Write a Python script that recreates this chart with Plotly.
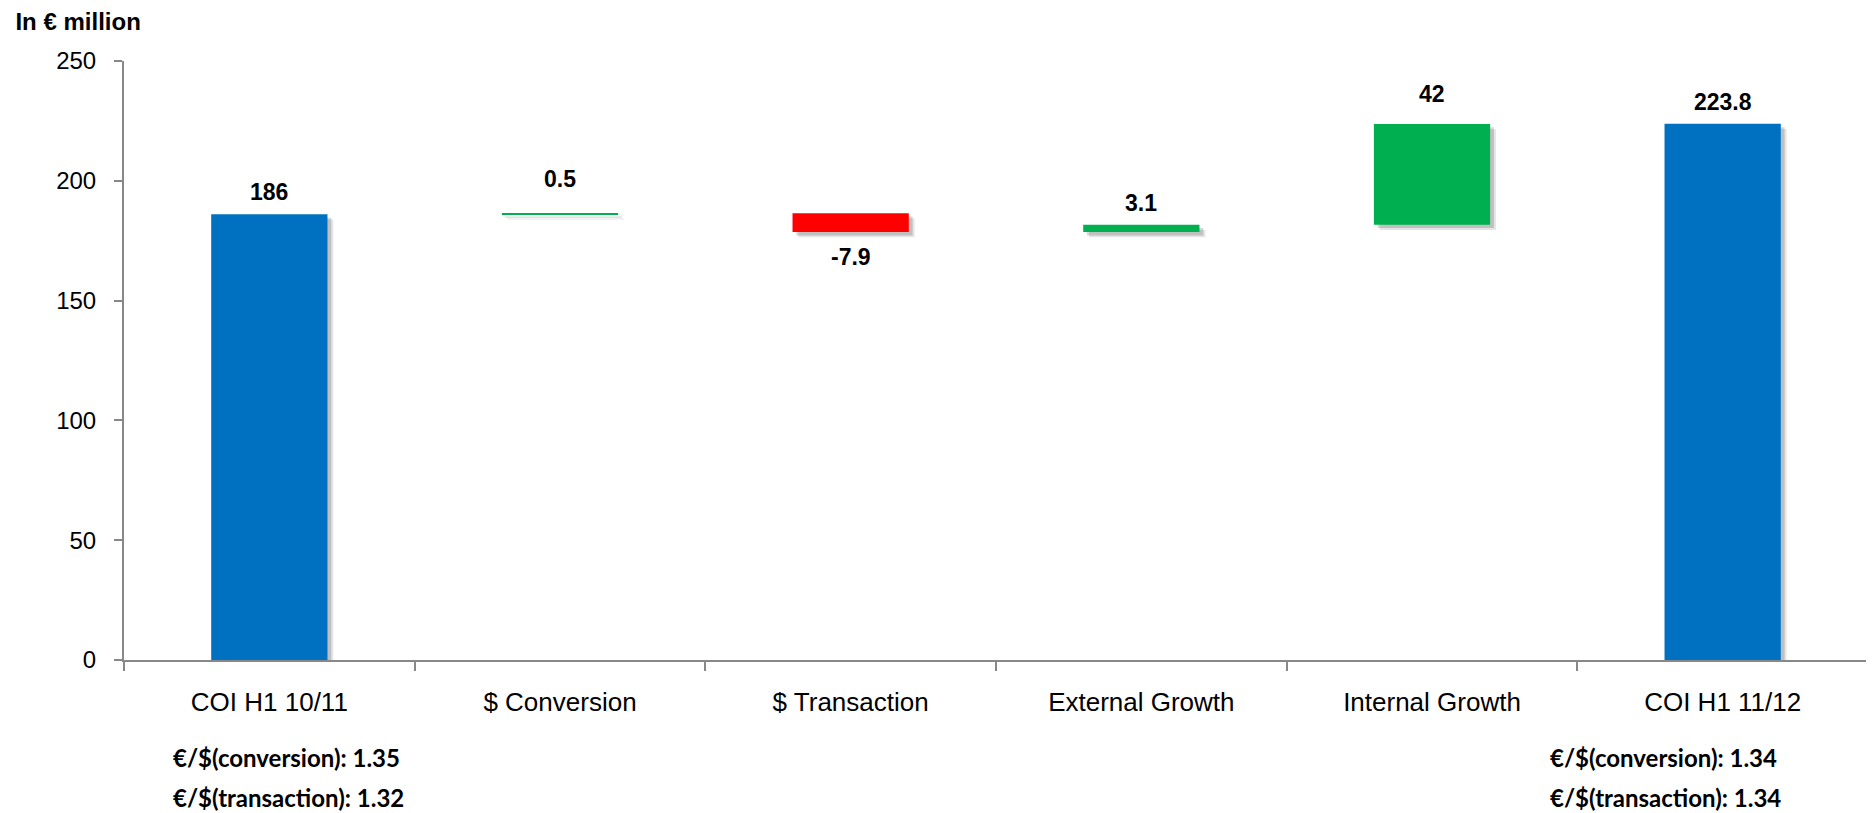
import plotly.graph_objects as go

categories = ["COI H1 10/11", "$ Conversion", "$ Transaction", "External Growth", "Internal Growth", "COI H1 11/12"]
measures = ["absolute", "relative", "relative", "relative", "relative", "total"]
values = [186, 0.5, -7.9, 3.1, 42, 223.8]
y_ticks = [0, 50, 100, 150, 200, 250]
left_notes = ["€/$(conversion): 1.35", "€/$(transaction): 1.32"]
right_notes = ["€/$(conversion): 1.34", "€/$(transaction): 1.34"]

BLUE = "#0070C0"
GREEN = "#00B050"
RED = "#FF0000"

# compute bases / heights from the data
bases, heights, colors = [], [], []
running = 0.0
for m, v in zip(measures, values):
    if m in ("absolute", "total"):
        bases.append(0); heights.append(v); colors.append(BLUE); running = v
    else:
        bases.append(running); heights.append(v)
        colors.append(GREEN if v >= 0 else RED)
        running += v

BW = 0.40
fig = go.Figure()
# soft shadow layers
for dx, dy, a in [(0.020, 2.2, 0.10), (0.013, 1.4, 0.16)]:
    fig.add_trace(go.Bar(
        x=categories, y=heights, base=[b - dy for b in bases],
        width=BW, offset=-BW / 2 + dx,
        marker=dict(color=f"rgba(0,0,0,{a})", line=dict(width=0)),
        hoverinfo="skip", showlegend=False))
fig.add_trace(go.Bar(
    x=categories, y=heights, base=bases, width=BW,
    marker=dict(color=colors, line=dict(width=0)),
    showlegend=False))

label_font = dict(family="Liberation Sans, Arial", size=23, color="#000000")
shifts = {1: 19, 4: 15}
for i, (c, b, h, v) in enumerate(zip(categories, bases, heights, values)):
    txt = f"{v:g}"
    if h >= 0:
        fig.add_annotation(x=c, y=b + h, text=f"<b>{txt}</b>", showarrow=False,
                           yanchor="bottom", yshift=shifts.get(i, 7), font=label_font)
    else:
        fig.add_annotation(x=c, y=b + h, text=f"<b>{txt}</b>", showarrow=False,
                           yanchor="top", yshift=-10, font=label_font)

note_font = dict(family="Lato, Carlito, Calibri", size=24, color="#000000")
note_y = [-0.1636, -0.230]
for j, t in enumerate(left_notes):
    fig.add_annotation(xref="paper", yref="paper", x=0.027, y=note_y[j],
                       text=f"<b>{t}</b>", showarrow=False, xanchor="left",
                       yanchor="middle", font=note_font)
for j, t in enumerate(right_notes):
    fig.add_annotation(xref="paper", yref="paper", x=0.8165, y=note_y[j],
                       text=f"<b>{t}</b>", showarrow=False, xanchor="left",
                       yanchor="middle", font=note_font)

fig.update_layout(
    width=1866, height=805,
    margin=dict(l=116, r=6, t=53, b=153),
    paper_bgcolor="white", plot_bgcolor="white",
    barmode="overlay",
    font=dict(family="Liberation Sans, Arial", size=22, color="#000000"),
    title=dict(text="<b>In € million</b>", xref="container", yref="container",
               x=0.004, xanchor="left", y=0.994, yanchor="top",
               font=dict(family="Liberation Sans, Arial", size=24, color="#000000")),
)
fig.update_xaxes(
    type="category", range=[-0.5, 5.5],
    showline=True, linecolor="#888888", linewidth=2,
    ticks="outside", tickson="boundaries", ticklen=9, tickcolor="#888888", tickwidth=2,
    showgrid=False, zeroline=False,
    tickfont=dict(family="Liberation Sans, Arial", size=26, color="#000000"),
    ticklabelstandoff=18,
)
fig.update_yaxes(
    range=[0, 250], tickvals=y_ticks,
    showline=True, linecolor="#888888", linewidth=2,
    ticks="outside", ticklen=8, tickcolor="#888888", tickwidth=2,
    showgrid=False, zeroline=False,
    tickfont=dict(family="Liberation Sans, Arial", size=24, color="#000000"),
    ticklabelstandoff=13,
)

fig.write_html("out.html")
